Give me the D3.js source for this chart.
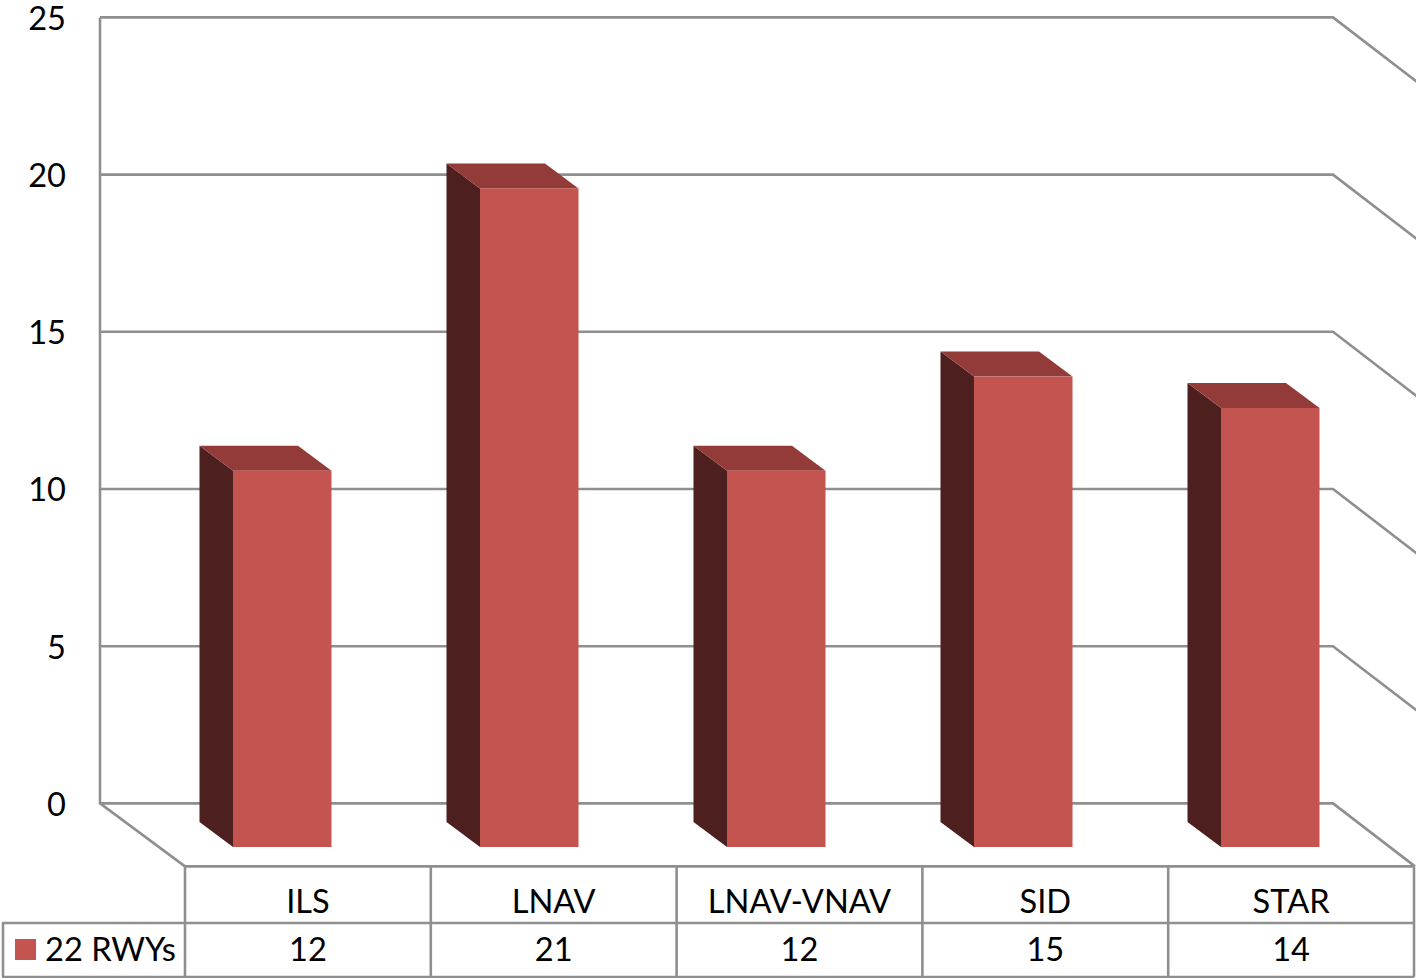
<!DOCTYPE html>
<html>
<head>
<meta charset="utf-8">
<script src="https://cdn.jsdelivr.net/npm/d3@7"></script>
<style>
  html, body { margin: 0; padding: 0; background: #fff; overflow: hidden; }
  svg { display: block; }
  text { font-family: Lato, "Open Sans", sans-serif; fill: #000; }
</style>
</head>
<body>
<svg id="chart" width="1416" height="978"></svg>
<script>
const categories = ["ILS", "LNAV", "LNAV-VNAV", "SID", "STAR"];
const seriesName = "22 RWYs";
const seriesValues = [12, 21, 12, 15, 14];
const yTicks = [0, 5, 10, 15, 20, 25];

const gridColor = "#8f8f8f";
const frontColor = "#C4544F";
const sideColor = "#4D1F1E";
const topColor = "#933B39";
const fontSize = 32.6;

const svg = d3.select("#chart");

// Back wall vertical scale and the table's category columns
const y = d3.scaleLinear().domain([0, 25]).range([803.4, 17.4]);
const x = d3.scaleBand().domain(categories).range([185, 1414]);

// Oblique projection: wall to floor front edge
const wallLeft = 100, wallRight = 1333;
const leftFloorDx = 85, rightFloorDx = 82, floorDy = 63;
const floorFront = y(0) + floorDy;

// Bars sit on the floor on their own scales, slightly off the wall's
const barX = d3.scaleBand().domain(categories).range([185, 1420]);
const barY = d3.scaleLinear().domain([0, 25]).range([847, 63]);
const barOffset = 48, barWidth = 98.5;
const depthDx = 33.5, depthDy = 25;

const grid = svg.append("g").attr("fill", "none")
  .attr("stroke", gridColor).attr("stroke-width", 2.6);

// Horizontal wall lines; the side wall returns run off the page edge, except at the floor
grid.selectAll("path.wall").data(yTicks).join("path")
  .attr("class", "wall")
  .attr("d", t => {
    const run = t === 0 ? 1 : 1.05;
    return d3.line()([
      [wallLeft, y(t)], [wallRight, y(t)],
      [wallRight + rightFloorDx * run, y(t) + floorDy * run]
    ]);
  });

// Left wall edge and left floor edge
grid.append("path").attr("d", d3.line()([
  [wallLeft, y(25)], [wallLeft, y(0)], [wallLeft + leftFloorDx, floorFront]
]));

// Bars: side, top, then front face
const bars = svg.append("g").selectAll("g").data(seriesValues).join("g");
const left = (d, i) => barX(categories[i]) + barOffset;

bars.append("path").attr("fill", sideColor).attr("d", (d, i) => {
  const l = left(d, i), top = barY(d);
  return d3.line()([
    [l, top], [l - depthDx, top - depthDy],
    [l - depthDx, barY(0) - depthDy], [l, barY(0)]
  ]) + "Z";
});
bars.append("path").attr("fill", topColor).attr("d", (d, i) => {
  const l = left(d, i), top = barY(d);
  return d3.line()([
    [l, top], [l - depthDx, top - depthDy],
    [l + barWidth - depthDx, top - depthDy], [l + barWidth, top]
  ]) + "Z";
});
bars.append("rect").attr("fill", frontColor)
  .attr("x", left)
  .attr("y", d => barY(d))
  .attr("width", barWidth)
  .attr("height", d => barY(0) - barY(d));

// Value axis labels
const yAxis = svg.append("g")
  .attr("transform", "translate(73,1.5)")
  .call(d3.axisLeft(y).tickValues(yTicks).tickSize(0).tickPadding(7));
yAxis.select(".domain").remove();
yAxis.selectAll("text")
  .attr("font-size", fontSize)
  .style("font-family", "Lato, 'Open Sans', sans-serif")
  .attr("fill", "#000");

// Data table under the plot
const rowTop = floorFront, rowMid = 923, rowBottom = 977;
const table = svg.append("g").attr("fill", "none")
  .attr("stroke", gridColor).attr("stroke-width", 2.6);
const [tableLeft, tableRight] = x.range();

[rowTop, rowMid, rowBottom].forEach((ry, i) => {
  table.append("line")
    .attr("x1", i === 0 ? tableLeft : 2).attr("x2", tableRight)
    .attr("y1", ry).attr("y2", ry);
});
[...categories.map(c => x(c)), tableRight].forEach(cx => {
  table.append("line").attr("x1", cx).attr("x2", cx)
    .attr("y1", rowTop).attr("y2", rowBottom);
});
table.append("line").attr("x1", 3).attr("x2", 3)
  .attr("y1", rowMid).attr("y2", rowBottom);

const cellText = svg.append("g").attr("text-anchor", "middle").attr("font-size", fontSize);
cellText.selectAll("text.cat").data(categories).join("text")
  .attr("class", "cat")
  .attr("x", c => x(c) + x.bandwidth() / 2)
  .attr("y", 913)
  .text(c => c);
cellText.selectAll("text.val").data(seriesValues).join("text")
  .attr("class", "val")
  .attr("x", (d, i) => x(categories[i]) + x.bandwidth() / 2)
  .attr("y", 961)
  .text(d => d);

// Legend key inside the table's row header
svg.append("rect").attr("x", 15).attr("y", 939).attr("width", 21).attr("height", 21).attr("fill", frontColor);
svg.append("text").attr("x", 45).attr("y", 961).attr("font-size", fontSize).text(seriesName);
</script>
</body>
</html>
